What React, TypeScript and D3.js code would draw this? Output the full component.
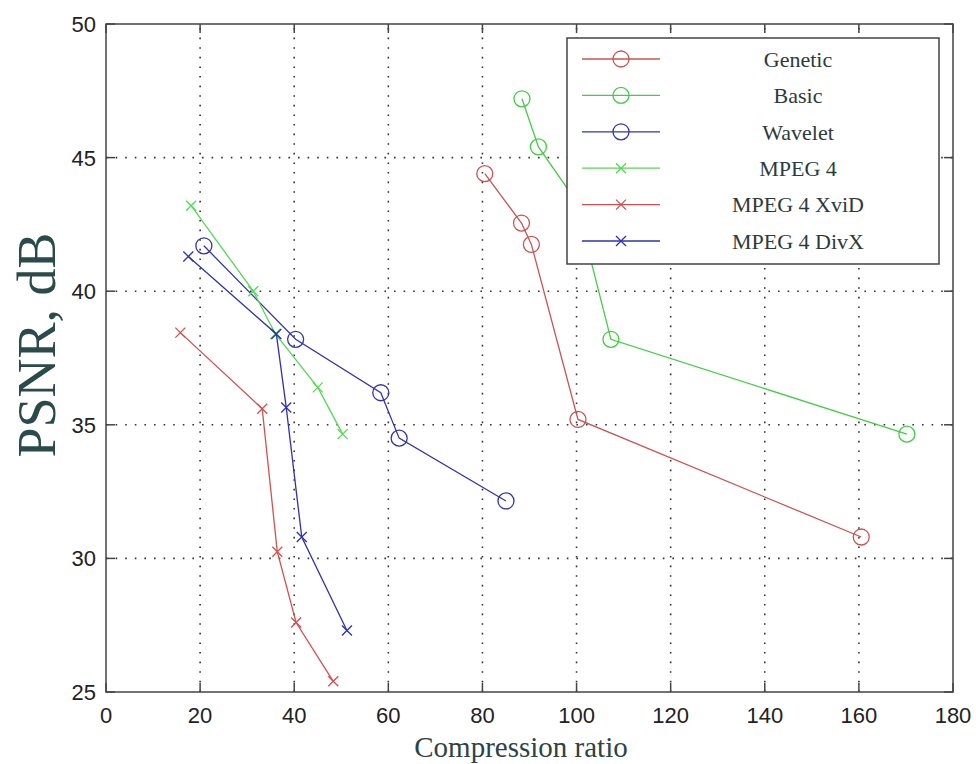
import * as d3 from "d3";
import { useEffect, useRef } from "react";

// compression ratio / PSNR pairs
const geneticX = [80.5, 88.3, 90.4, 100.3, 160.5];
const geneticY = [44.4, 42.55, 41.75, 35.2, 30.8];
const basicX = [88.4, 91.9, 99.8, 107.3, 170.2];
const basicY = [47.2, 45.4, 43.4, 38.2, 34.65];
const waveletX = [20.8, 40.3, 58.4, 62.3, 85.0];
const waveletY = [41.7, 38.2, 36.2, 34.5, 32.15];
const mpeg4X = [18.1, 31.3, 36.0, 45.0, 50.3];
const mpeg4Y = [43.2, 40.0, 38.4, 36.4, 34.65];
const xvidX = [15.8, 33.2, 36.4, 40.4, 48.3];
const xvidY = [38.45, 35.6, 30.25, 27.6, 25.4];
const divxX = [17.5, 36.2, 38.3, 41.6, 51.2];
const divxY = [41.3, 38.4, 35.65, 30.8, 27.3];

const seriesNames = ["Genetic", "Basic", "Wavelet", "MPEG 4", "MPEG 4 XviD", "MPEG 4 DivX"];
const xTicks = [0, 20, 40, 60, 80, 100, 120, 140, 160, 180];
const yTicks = [25, 30, 35, 40, 45, 50];

const App = () => {
  const ref = useRef<SVGSVGElement>(null);

  useEffect(() => {
    draw();
  }, []);

  const draw = () => {
    const width = 976, height = 764;
    const left = 106, right = 953, top = 24, bottom = 692;

    const svg = d3.select(ref.current);
    svg.selectAll("*").remove();

    const x = d3.scaleLinear().domain([0, 180]).range([left, right]);
    const y = d3.scaleLinear().domain([25, 50]).range([bottom, top]);

    svg.append("rect").attr("width", width).attr("height", height).attr("fill", "#fff");

    // dotted grid
    const grid = svg.append("g").attr("stroke", "#333").attr("stroke-width", 1.6).attr("stroke-dasharray", "1.6,8");
    xTicks.slice(1, -1).forEach(t => {
      grid.append("line").attr("x1", x(t)).attr("x2", x(t)).attr("y1", bottom).attr("y2", top);
    });
    yTicks.slice(1, -1).forEach(t => {
      grid.append("line").attr("x1", left).attr("x2", right).attr("y1", y(t)).attr("y2", y(t));
    });

    // axes box with inward ticks
    const axisG = svg.append("g").attr("stroke", "#444").attr("stroke-width", 1.5).attr("fill", "none");
    axisG.append("rect").attr("x", left).attr("y", top).attr("width", right - left).attr("height", bottom - top);
    xTicks.forEach(t => {
      axisG.append("line").attr("x1", x(t)).attr("x2", x(t)).attr("y1", bottom).attr("y2", bottom - 9);
      axisG.append("line").attr("x1", x(t)).attr("x2", x(t)).attr("y1", top).attr("y2", top + 9);
    });
    yTicks.forEach(t => {
      axisG.append("line").attr("x1", left).attr("x2", left + 9).attr("y1", y(t)).attr("y2", y(t));
      axisG.append("line").attr("x1", right).attr("x2", right - 9).attr("y1", y(t)).attr("y2", y(t));
    });

    const tickFont = "'Liberation Sans', Arial, sans-serif";
    svg.append("g").selectAll("text").data(xTicks).enter().append("text")
      .attr("x", d => x(d)).attr("y", 723)
      .attr("text-anchor", "middle")
      .attr("font-family", tickFont).attr("font-size", 22).attr("fill", "#222")
      .text(d => d);
    svg.append("g").selectAll("text").data(yTicks).enter().append("text")
      .attr("x", 96).attr("y", d => y(d)).attr("dy", "0.36em")
      .attr("text-anchor", "end")
      .attr("font-family", tickFont).attr("font-size", 22).attr("fill", "#222")
      .text(d => d);

    svg.append("text")
      .attr("x", 521).attr("y", 757)
      .attr("text-anchor", "middle")
      .attr("font-family", "'Liberation Serif', 'Times New Roman', serif")
      .attr("font-size", 29).attr("fill", "#2b4444")
      .text("Compression ratio");
    svg.append("text")
      .attr("transform", "translate(55,345) rotate(-90)")
      .attr("text-anchor", "middle")
      .attr("font-family", "'Liberation Serif', 'Times New Roman', serif")
      .attr("font-size", 54).attr("fill", "#2b4a4a")
      .text("PSNR, dB");

    const series = [
      { xs: geneticX, ys: geneticY, color: "#c85555", marker: "o" },
      { xs: basicX, ys: basicY, color: "#44cc44", marker: "o" },
      { xs: waveletX, ys: waveletY, color: "#3535a8", marker: "o" },
      { xs: mpeg4X, ys: mpeg4Y, color: "#55d855", marker: "x" },
      { xs: xvidX, ys: xvidY, color: "#d05050", marker: "x" },
      { xs: divxX, ys: divxY, color: "#3030b0", marker: "x" },
    ];

    const line = d3.line<[number, number]>().x(d => x(d[0])).y(d => y(d[1]));

    const drawMarker = (g: any, cx: number, cy: number, kind: string, color: string) => {
      if (kind === "o") {
        g.append("circle").attr("cx", cx).attr("cy", cy).attr("r", 8)
          .attr("fill", "none").attr("stroke", color).attr("stroke-width", 1.3);
      } else {
        const s = 5;
        g.append("path").attr("d", `M${cx - s},${cy - s}L${cx + s},${cy + s}M${cx - s},${cy + s}L${cx + s},${cy - s}`)
          .attr("stroke", color).attr("stroke-width", 1.3).attr("fill", "none");
      }
    };

    series.forEach(s => {
      const pts: [number, number][] = s.xs.map((v, i) => [v, s.ys[i]]);
      const g = svg.append("g");
      g.append("path").attr("d", line(pts)).attr("fill", "none")
        .attr("stroke", s.color).attr("stroke-width", 1.3);
      pts.forEach(p => drawMarker(g, x(p[0]), y(p[1]), s.marker, s.color));
    });

    // legend
    const lg = svg.append("g");
    lg.append("rect").attr("x", 567).attr("y", 38).attr("width", 372).attr("height", 226)
      .attr("fill", "#fff").attr("stroke", "#444").attr("stroke-width", 1.5);
    series.forEach((s, i) => {
      const ly = 59 + i * 36.4;
      lg.append("line").attr("x1", 582).attr("x2", 660).attr("y1", ly).attr("y2", ly)
        .attr("stroke", s.color).attr("stroke-width", 1.3);
      drawMarker(lg, 621, ly, s.marker, s.color);
      lg.append("text").attr("x", 798).attr("y", ly).attr("dy", "0.35em")
        .attr("text-anchor", "middle")
        .attr("font-family", "'Liberation Serif', 'Times New Roman', serif")
        .attr("font-size", 22).attr("fill", "#2b3b3b")
        .text(seriesNames[i]);
    });
  };

  return (
    <svg ref={ref} width={976} height={764} style={{ position: "absolute", left: 0, top: 0 }}></svg>
  );
};

export default App;
